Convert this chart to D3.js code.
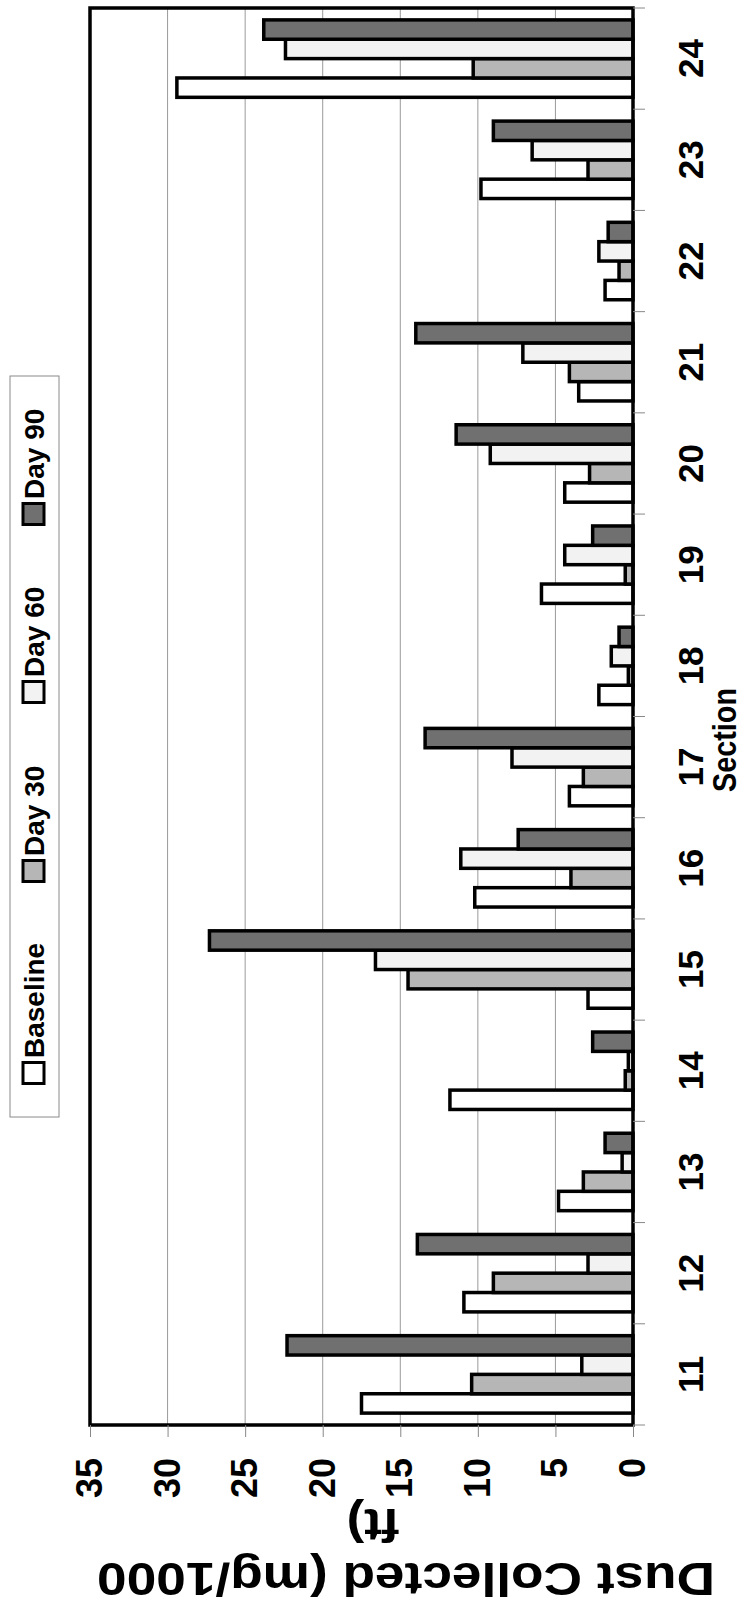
<!DOCTYPE html>
<html>
<head>
<meta charset="utf-8">
<script src="https://cdn.jsdelivr.net/npm/d3@7"></script>
<style>
  html, body { margin: 0; padding: 0; background: #fff; }
  svg { display: block; }
  text { font-family: "Liberation Sans", Arial, sans-serif; font-weight: bold; fill: #000; }
</style>
</head>
<body>
<svg id="chart" width="745" height="1613"></svg>
<script>
// ---- data ----
const sections = ["11","12","13","14","15","16","17","18","19","20","21","22","23","24"];
const seriesNames = ["Baseline","Day 30","Day 60","Day 90"];
const baseline = [17.5, 10.9, 4.8, 11.8, 2.9, 10.2, 4.1, 2.2, 5.9, 4.4, 3.5, 1.8, 9.8, 29.4];
const day30    = [10.4,  9.0, 3.2,  0.5, 14.5, 4.0, 3.2, 0.3, 0.5, 2.8, 4.1, 0.9, 2.9, 10.3];
const day60    = [ 3.3,  2.9, 0.7,  0.3, 16.6, 11.1, 7.8, 1.4, 4.4, 9.2, 7.1, 2.2, 6.5, 22.4];
const day90    = [22.3, 13.9, 1.8,  2.6, 27.3, 7.4, 13.4, 0.9, 2.6, 11.4, 14.0, 1.6, 9.0, 23.8];
const valueTicks = [0, 5, 10, 15, 20, 25, 30, 35];
const yTitleLines = ["Dust Collected (mg/1000", "ft)"];
const xTitle = "Section";

const seriesValues = [baseline, day30, day60, day90];
const colors = ["#ffffff", "#b6b6b6", "#f2f2f2", "#707070"];

// ---- layout (drawn in landscape frame, then rotated -90deg) ----
const W = 1613, H = 745;
const svg = d3.select("#chart");
const g = svg.append("g").attr("transform", `translate(0,${W}) rotate(-90)`);

const plot = { left: 188, right: 1605, top: 90, bottom: 633 };

const x0 = d3.scaleBand().domain(sections).range([plot.left, plot.right])
  .paddingInner(0.235).paddingOuter(0.1175);
const x1 = d3.scaleBand().domain(seriesNames).range([0, x0.bandwidth()]);
const y = d3.scaleLinear().domain([0, 35]).range([plot.bottom, plot.top]);

// gridlines
g.append("g").selectAll("line").data(valueTicks.filter(v => v > 0 && v < 35)).join("line")
  .attr("x1", plot.left).attr("x2", plot.right)
  .attr("y1", d => y(d)).attr("y2", d => y(d))
  .attr("stroke", "#9a9a9a").attr("stroke-width", 1);

// bars
const data = sections.map((s, i) => ({ s, vals: seriesNames.map((n, j) => ({ n, j, v: seriesValues[j][i] })) }));
g.append("g").selectAll("g").data(data).join("g")
  .attr("transform", d => `translate(${x0(d.s)},0)`)
  .selectAll("rect").data(d => d.vals).join("rect")
  .attr("x", d => x1(d.n))
  .attr("width", x1.bandwidth())
  .attr("y", d => y(d.v))
  .attr("height", d => y(0) - y(d.v))
  .attr("fill", d => colors[d.j])
  .attr("stroke", "#000").attr("stroke-width", 3.5);

// plot border
g.append("rect")
  .attr("x", plot.left).attr("y", plot.top)
  .attr("width", plot.right - plot.left).attr("height", plot.bottom - plot.top)
  .attr("fill", "none").attr("stroke", "#000").attr("stroke-width", 3.5);

// value axis (left in landscape frame)
const yAxis = d3.axisLeft(y).tickValues(valueTicks).tickSize(12).tickPadding(21).tickFormat(d3.format("d"));
const ya = g.append("g").attr("transform", `translate(${plot.left},0)`).call(yAxis);
ya.select(".domain").remove();
ya.selectAll(".tick line").attr("stroke", "#888").attr("stroke-width", 1);
ya.selectAll(".tick text").style("font-size", "36px").attr("font-family", null);

// category axis (bottom in landscape frame)
const xAxis = d3.axisBottom(x0).tickSize(0).tickPadding(45);
const xa = g.append("g").attr("transform", `translate(0,${plot.bottom})`).call(xAxis);
xa.select(".domain").remove();
xa.selectAll(".tick text").style("font-size", "35px").attr("font-family", null);
// boundary tick marks
const bounds = d3.range(sections.length + 1).map(i => plot.left + i * x0.step());
g.append("g").selectAll("line").data(bounds).join("line")
  .attr("x1", d => d).attr("x2", d => d)
  .attr("y1", plot.bottom).attr("y2", plot.bottom + 12)
  .attr("stroke", "#888").attr("stroke-width", 1);

// x title
g.append("text").attr("x", 873).attr("y", 736).attr("text-anchor", "middle")
  .style("font-size", "33px")
  .attr("textLength", 104).attr("lengthAdjust", "spacingAndGlyphs")
  .text(xTitle);

// y title (rotated -90 in landscape frame)
const t1 = g.append("text").attr("transform", "translate(50,406) rotate(-90)")
  .attr("text-anchor", "middle").style("font-size", "47px")
  .text(yTitleLines[0]);
const n1 = t1.node().getComputedTextLength();
t1.attr("textLength", 618).attr("lengthAdjust", "spacingAndGlyphs");
const t2 = g.append("text").attr("transform", "translate(104,373) rotate(-90)")
  .attr("text-anchor", "middle").style("font-size", "47px")
  .text(yTitleLines[1]);
const n2 = t2.node().getComputedTextLength();
t2.attr("textLength", n2 * 618 / n1).attr("lengthAdjust", "spacingAndGlyphs");

// legend
const legendX = [540, 742, 921, 1099];
const lg = g.append("g");
lg.append("rect").attr("x", 496).attr("y", 10).attr("width", 741).attr("height", 49)
  .attr("fill", "#fff").attr("stroke", "#8a8a8a").attr("stroke-width", 1);
const items = lg.selectAll("g.item").data(seriesNames).join("g").attr("class", "item")
  .attr("transform", (d, i) => `translate(${legendX[i]},33.5)`);
items.append("rect").attr("x", -10.5).attr("y", -10.5).attr("width", 21).attr("height", 21)
  .attr("fill", (d, i) => colors[i]).attr("stroke", "#000").attr("stroke-width", 3);
items.append("text").attr("x", 15).attr("y", 10).style("font-size", "28px").text(d => d);
</script>
</body>
</html>
